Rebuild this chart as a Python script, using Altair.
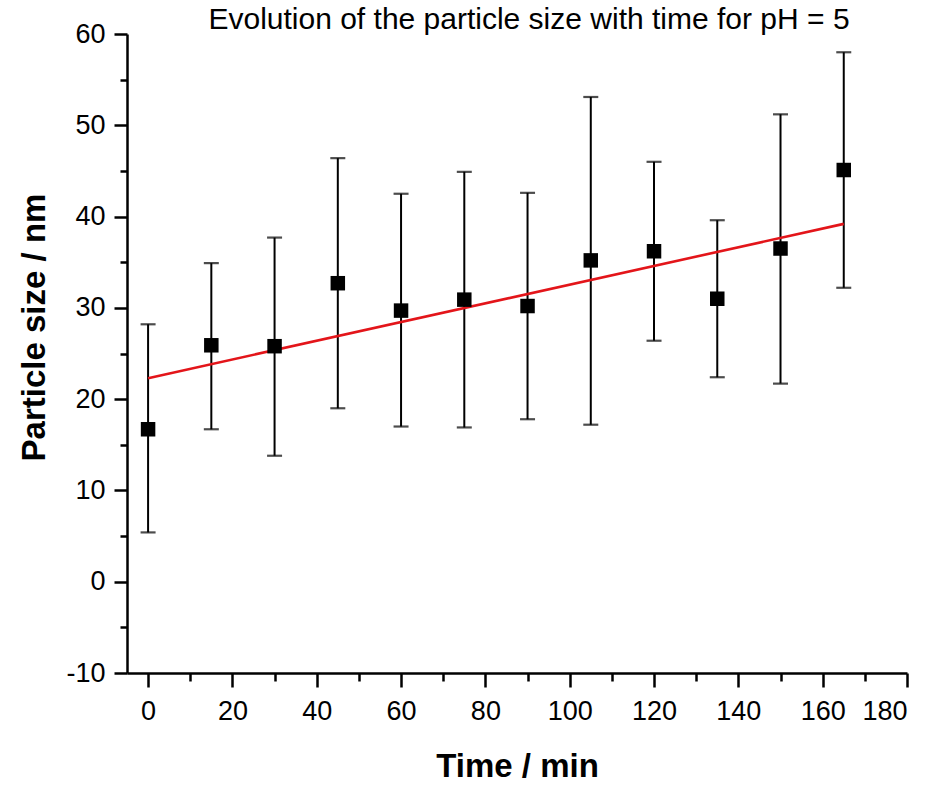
import altair as alt
import pandas as pd

time_min = [0, 15, 30, 45, 60, 75, 90, 105, 120, 135, 150, 165]
size_nm = [16.7, 25.9, 25.8, 32.7, 29.7, 30.9, 30.2, 35.2, 36.2, 31.0, 36.5, 45.1]
err_low = [5.4, 16.7, 13.8, 19.0, 17.0, 16.9, 17.8, 17.2, 26.4, 22.4, 21.7, 32.2]
err_high = [28.2, 34.9, 37.7, 46.4, 42.5, 44.9, 42.6, 53.1, 46.0, 39.6, 51.2, 58.0]

fit_time = [0, 165]
fit_size = [22.3, 39.2]

x_ticks = list(range(0, 181, 10))
y_ticks = list(range(-10, 61, 5))

df = pd.DataFrame({"t": time_min, "s": size_nm, "lo": err_low, "hi": err_high})
fit = pd.DataFrame({"t": fit_time, "s": fit_size})

FONT = "Liberation Sans"
xs = alt.Scale(domain=[-5, 180], nice=False, zero=False)
ys = alt.Scale(domain=[-10, 60], nice=False, zero=False)

x_axis = alt.Axis(
    values=x_ticks,
    title="Time / min",
    tickSize={"condition": {"test": "datum.value % 20 === 0", "value": 14}, "value": 8},
    labelExpr="datum.value % 20 === 0 ? '' + datum.value : ''",
    grid=False,
    domainColor="black", domainWidth=2.5,
    tickColor="black", tickWidth=2.5,
    labelColor="black", labelFont=FONT, labelFontSize=27, labelPadding=11,
    titleColor="black", titleFont=FONT, titleFontSize=33, titleFontWeight="bold",
    titlePadding=26,
    labelOverlap=False,
)
y_axis = alt.Axis(
    values=y_ticks,
    title="Particle size / nm",
    tickSize={"condition": {"test": "datum.value % 10 === 0", "value": 13}, "value": 7},
    labelExpr="datum.value % 10 === 0 ? '' + datum.value : ''",
    grid=False,
    domainColor="black", domainWidth=2.5,
    tickColor="black", tickWidth=2.5,
    labelColor="black", labelFont=FONT, labelFontSize=27, labelPadding=9,
    titleColor="black", titleFont=FONT, titleFontSize=33, titleFontWeight="bold",
    titlePadding=14, titleY=293,
    labelOverlap=False,
)


def X(field):
    return alt.X(field + ":Q", scale=xs, axis=x_axis)


def Y(field):
    return alt.Y(field + ":Q", scale=ys, axis=y_axis)


bars = alt.Chart(df).mark_rule(color="black", strokeWidth=2).encode(
    x=X("t"), y=Y("lo"), y2="hi:Q",
)
cap_lo = alt.Chart(df).mark_tick(color="black", orient="horizontal", size=15, thickness=2.2).encode(
    x=X("t"), y=Y("lo"),
)
cap_hi = alt.Chart(df).mark_tick(color="black", orient="horizontal", size=15, thickness=2.2).encode(
    x=X("t"), y=Y("hi"),
)
line = alt.Chart(fit).mark_line(color="#e3151a", strokeWidth=2.6).encode(
    x=X("t"), y=Y("s"),
)
pts = alt.Chart(df).mark_square(color="black", size=210, opacity=1, filled=True).encode(
    x=X("t"), y=Y("s"),
)

chart = alt.layer(bars, cap_lo, cap_hi, line, pts).properties(
    width=780,
    height=639,
    title=alt.TitleParams(
        text="Evolution of the particle size with time for pH = 5",
        font=FONT, fontSize=30, fontWeight="normal", color="black",
        anchor="middle", dx=12, dy=43, offset=4, baseline="alphabetic", frame="group",
    ),
    autosize=alt.AutoSizeParams(type="none"),
    padding={"left": 127, "top": 34, "right": 32, "bottom": 113},
).configure(background="white", view=alt.ViewConfig(stroke="transparent"))

chart.save("out.html", embed_options={"renderer": "svg", "actions": False})
